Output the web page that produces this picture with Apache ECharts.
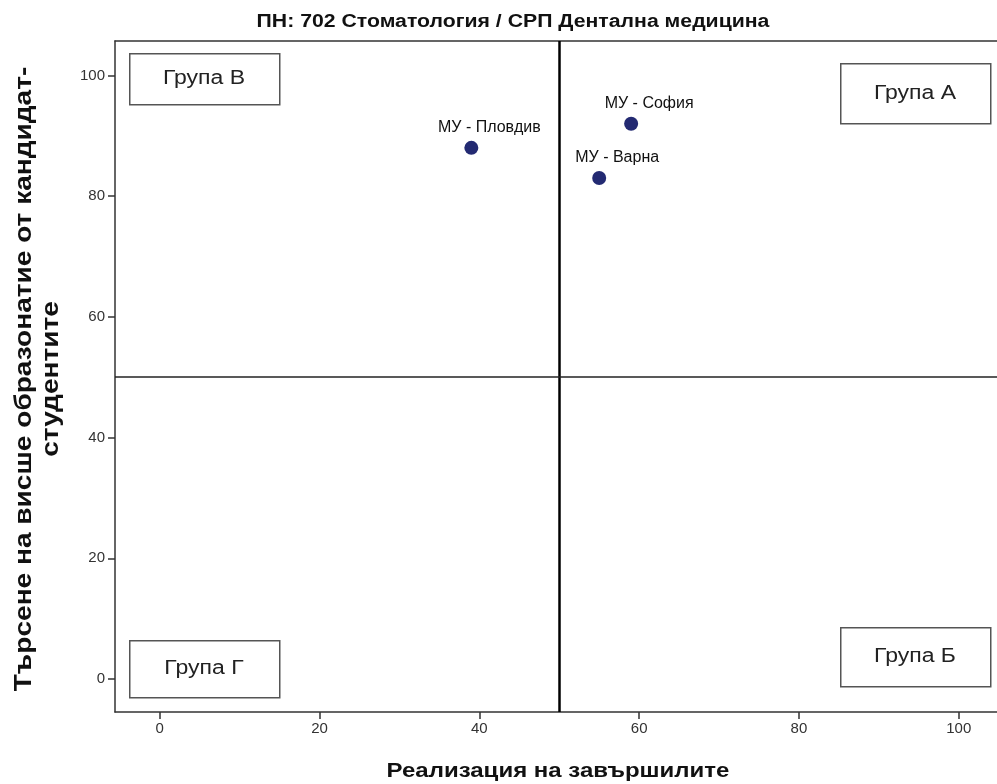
<!DOCTYPE html>
<html>
<head>
<meta charset="utf-8">
<script src="https://cdn.jsdelivr.net/npm/echarts@6/dist/echarts.min.js"></script>
<style>
html,body{margin:0;padding:0;background:#fff;}
#chart{width:997px;height:784px;}
</style>
</head>
<body>
<div id="chart"></div>
<script>
// ---- data ----
var chartTitle = 'ПН: 702 Стоматология / СРП Дентална медицина';
var xTitle = 'Реализация на завършилите';
var yTitle = 'Търсене на висше образонатие от кандидат-\nстудентите';
var universities = ['МУ - Пловдив', 'МУ - София', 'МУ - Варна'];
var realization = [39, 59, 55];
var demand = [88, 92, 83];
var xTicks = [0, 20, 40, 60, 80, 100];
var yTicks = [0, 20, 40, 60, 80, 100];
var dividerX = 50;
var dividerY = 50;
var groupNames = ['Група В', 'Група А', 'Група Г', 'Група Б'];

// ---- chart ----
var FONT = '"Liberation Sans", Arial, sans-serif';
var chart = echarts.init(document.getElementById('chart'), null, {renderer: 'canvas'});

var points = universities.map(function (n, i) { return {name: n, value: [realization[i], demand[i]]}; });

var boxRects = [
  {x: 129, y: 53, w: 150, h: 51},
  {x: 840, y: 63, w: 150, h: 60},
  {x: 129, y: 640, w: 150, h: 57},
  {x: 840, y: 627, w: 150, h: 59}
];
var graphics = [];
groupNames.forEach(function (g, i) {
  var b = boxRects[i];
  graphics.push({
    type: 'rect', left: b.x, top: b.y, z: 10,
    shape: {width: b.w, height: b.h},
    style: {fill: '#fff', stroke: '#555', lineWidth: 1.5}
  });
  graphics.push({
    type: 'text', z: 11,
    x: b.x + b.w / 2, y: b.y + b.h / 2, scaleX: 1.15,
    style: {text: g, fill: '#222', font: '20px ' + FONT, textAlign: 'center', textVerticalAlign: 'middle'}
  });
});
// titles (text slightly stretched along its run, as in the source)
graphics.push({
  type: 'text', z: 11, x: 513, y: 22, scaleX: 1.18,
  style: {text: chartTitle, fill: '#111', font: 'bold 18px ' + FONT, textAlign: 'center', textVerticalAlign: 'middle'}
});
graphics.push({
  type: 'text', z: 11, x: 558, y: 771, scaleX: 1.2,
  style: {text: xTitle, fill: '#111', font: 'bold 20px ' + FONT, textAlign: 'center', textVerticalAlign: 'middle'}
});
graphics.push({
  type: 'text', z: 11, x: 38, y: 379, rotation: Math.PI / 2, scaleX: 1.22,
  style: {text: yTitle, fill: '#111', font: 'bold 23px ' + FONT, lineHeight: 27, textAlign: 'center', textVerticalAlign: 'middle'}
});

var option = {
  backgroundColor: '#fff',
  animation: false,
  grid: {left: 115, right: 0, top: 41, bottom: 72, outerBoundsMode: 'none', containLabel: false},
  xAxis: [{
    type: 'value', min: -5.6, max: 104.79, position: 'bottom',
    splitLine: {show: false},
    axisLine: {show: true, onZero: false, lineStyle: {color: '#333', width: 1.5}},
    axisTick: {show: true, length: 7, customValues: xTicks, lineStyle: {color: '#333', width: 1.5}},
    axisLabel: {customValues: xTicks, margin: 9, color: '#333', fontFamily: FONT, fontSize: 15}
  }, {
    type: 'value', min: -5.6, max: 104.79, position: 'top',
    splitLine: {show: false},
    axisLine: {show: true, onZero: false, lineStyle: {color: '#333', width: 1.5}},
    axisTick: {show: false}, axisLabel: {show: false}
  }],
  yAxis: {
    type: 'value', min: -5.47, max: 105.7,
    splitLine: {show: false},
    axisLine: {show: true, onZero: false, lineStyle: {color: '#333', width: 1.5}},
    axisTick: {show: true, length: 7, customValues: yTicks, lineStyle: {color: '#333', width: 1.5}},
    axisLabel: {customValues: yTicks, margin: 10, color: '#333', fontFamily: FONT, fontSize: 15}
  },
  series: [{
    type: 'scatter',
    data: points,
    symbolSize: 14,
    itemStyle: {color: '#232a72', opacity: 1},
    label: {
      show: true, position: 'top', offset: [18, 0],
      formatter: '{b}', color: '#111', fontFamily: FONT, fontSize: 16
    },
    markLine: {
      silent: true, symbol: 'none', animation: false,
      label: {show: false},
      data: [
        {xAxis: dividerX, lineStyle: {color: '#000', width: 2.5, type: 'solid'}},
        {yAxis: dividerY, lineStyle: {color: '#222', width: 1.5, type: 'solid'}}
      ]
    }
  }],
  graphic: graphics
};
chart.setOption(option);
</script>
</body>
</html>
